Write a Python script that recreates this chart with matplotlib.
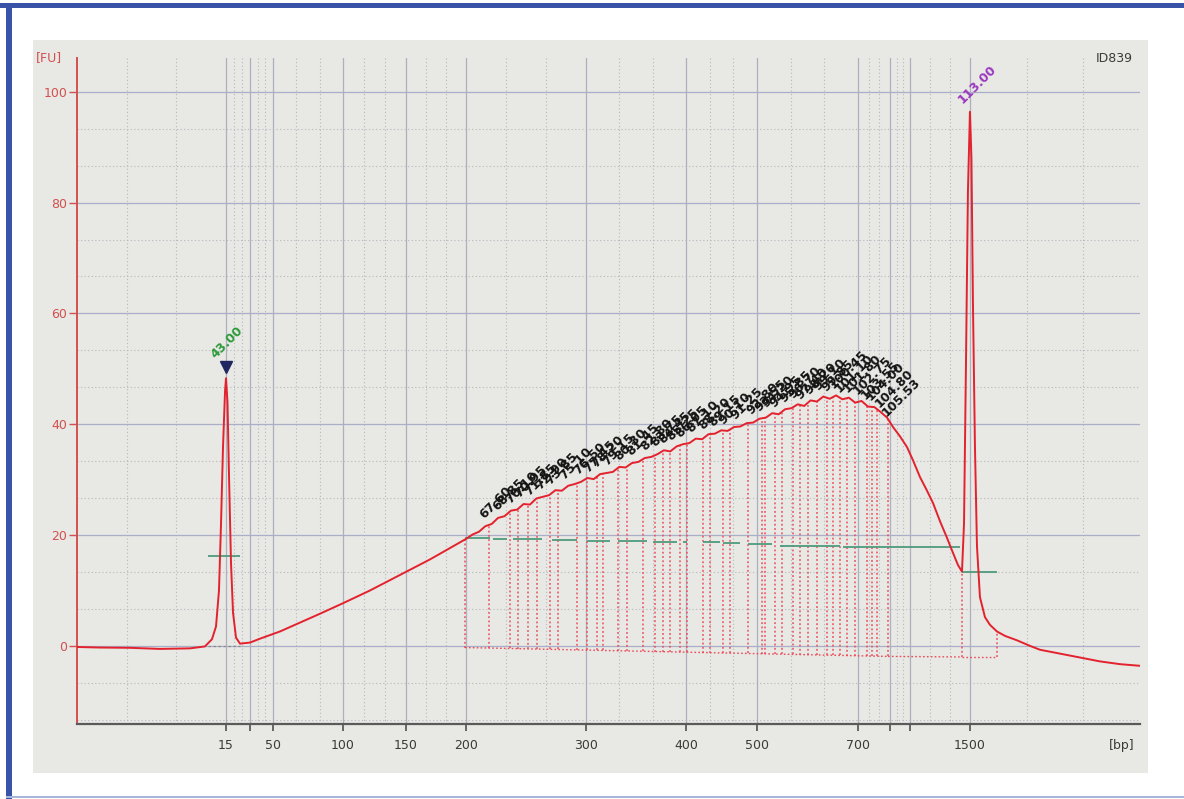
import numpy as np
import matplotlib
matplotlib.use("Agg")
import matplotlib.pyplot as plt
from matplotlib.patches import Rectangle

# ---------------------------------------------------------------- data
# migration time [s] and fluorescence [FU] of the electropherogram trace
trace_time = [
    28.98, 31.14, 33.97, 36.79, 39.61, 41.02, 41.68, 42.06, 42.34, 42.53,
    42.72, 42.91, 43.00, 43.14, 43.28, 43.47, 43.66, 43.94, 44.32, 45.26,
    46.20, 48.08, 49.96, 51.84, 54.01, 56.55, 59.37, 62.19, 65.58, 66.2,
    66.8, 67.4, 68.0, 68.6, 69.2, 69.8, 70.4, 71.0, 71.6, 72.2,
    72.8, 73.4, 74.0, 74.6, 75.2, 75.8, 76.4, 77.0, 77.6, 78.2,
    78.8, 79.4, 80.0, 80.6, 81.2, 81.8, 82.4, 83.0, 83.6, 84.2,
    84.8, 85.4, 86.0, 86.6, 87.2, 87.8, 88.4, 89.0, 89.6, 90.2,
    90.8, 91.4, 92.0, 92.6, 93.2, 93.8, 94.4, 95.0, 95.6, 96.2,
    96.8, 97.4, 98.0, 98.6, 99.2, 99.8, 100.4, 101.0, 101.6, 102.2,
    102.8, 103.4, 104.0, 104.6, 105.2, 105.76, 106.42, 107.07, 107.64, 108.29,
    108.96, 109.52, 110.18, 110.84, 111.40, 111.87, 112.25, 112.44, 112.62, 112.81,
    113.00, 113.14, 113.28, 113.47, 113.66, 113.94, 114.41, 114.88, 115.54, 116.30,
    117.43, 118.65, 119.59, 121.47, 123.35, 125.23, 127.12, 129.00,
]
trace_fu = [
    -0.2, -0.3, -0.35, -0.55, -0.45, -0.1, 1.2, 3.5, 10.0, 22.0,
    36.0, 46.0, 48.3, 44.0, 31.0, 15.0, 6.0, 1.5, 0.4, 0.6,
    1.3, 2.6, 4.2, 5.8, 7.7, 10.0, 12.8, 15.6, 19.3, 20.1,
    20.6, 21.6, 22.0, 23.1, 23.4, 24.4, 24.6, 25.6, 25.5, 26.6,
    26.9, 27.2, 28.1, 28.0, 28.9, 29.2, 29.6, 30.3, 30.1, 31.0,
    31.2, 31.4, 32.3, 32.2, 33.0, 33.2, 33.9, 34.1, 34.6, 35.3,
    35.1, 36.0, 36.4, 36.6, 37.4, 37.3, 38.2, 38.3, 38.9, 38.8,
    39.5, 39.6, 40.2, 40.3, 41.0, 41.2, 42.0, 41.8, 42.7, 42.9,
    43.6, 43.3, 44.3, 44.1, 45.0, 44.6, 45.2, 44.5, 44.8, 43.9,
    44.2, 43.2, 43.1, 42.2, 41.2, 39.5, 37.8, 35.9, 33.5, 30.5,
    28.0, 25.8, 22.5, 19.5, 16.8, 14.6, 13.4, 22.0, 50.0, 82.0,
    96.4, 88.0, 62.0, 36.0, 18.0, 8.8, 5.2, 3.8, 2.6, 1.8,
    1.0, 0.0, -0.7, -1.4, -2.1, -2.8, -3.3, -3.6,
]

# ladder sizes [bp] and the migration times they sit at
ladder_bp = ["15", "", "50", "100", "150", "200", "300", "400", "500",
             "700", "", "", "1500"]
ladder_time = [43.00, 45.26, 47.42, 54.01, 59.94, 65.58, 76.87, 86.28,
               92.96, 102.47, 105.48, 107.36, 113.00]

# markers: lower and upper
marker_time = [43.00, 113.00]
marker_fu = [48.3, 96.4]

# smear peaks (apex migration times) and their start / end boundaries
smear_peak_time = [
    67.60, 68.85, 70.10, 70.95, 71.85, 72.90, 73.85, 75.10, 76.50, 77.45,
    78.20, 79.15, 80.30, 81.45, 82.80, 83.75, 84.45, 85.25, 86.05, 87.10,
    88.20, 89.15, 90.10, 91.25, 92.80, 93.55, 94.20, 94.95, 95.85, 96.70,
    97.40, 98.20, 99.10, 99.85, 100.45, 101.10, 101.80, 102.75, 103.55, 104.00,
    104.80, 105.53,
]
smear_boundary_time = [
    65.49, 67.75, 69.72, 70.47, 71.41, 72.26, 73.49, 74.24, 76.03, 76.97,
    77.91, 78.47, 79.88, 80.73, 82.23, 83.36, 84.12, 84.78, 85.72, 86.38,
    87.88, 88.54, 89.77, 90.42, 92.12, 93.43, 93.71, 94.66, 95.31, 96.35,
    97.01, 97.76, 98.61, 99.55, 100.12, 100.77, 101.43, 102.18, 103.31, 103.78,
    104.25, 105.29,
]
smear_base_fu = [-0.3, -1.9]          # baseline at first / last boundary
upper_marker_bounds = [112.25, 115.54]
upper_marker_base_fu = -2.0
lower_marker_bounds = [41.31, 44.32]
lower_marker_base_fu = 0.0

# peak-width segments (start, end, level)
width_start = [65.49, 68.12, 70.00, 73.67, 76.97, 79.88, 83.18, 86.00, 87.88,
               89.77, 92.12, 95.13, 101.05, 41.31, 112.25]
width_end = [67.84, 69.44, 72.73, 76.03, 79.13, 82.61, 85.44, 86.38, 89.48,
             91.36, 94.37, 100.77, 112.06, 44.32, 115.54]
width_fu = [19.4, 19.3, 19.2, 19.1, 19.0, 18.9, 18.8, 18.8, 18.7, 18.6,
            18.4, 18.1, 17.9, 16.2, 13.4]

y_ticks = [0, 20, 40, 60, 80, 100]
x_range = (28.98, 129.0)
y_range = (-14.1, 106.1)

# ---------------------------------------------------------------- style
TRACE = "#e3222e"
DOT = "#ec4c5a"
AXIS_RED = "#d2504f"
TXT_GRAY = "#3a3a3a"
GRID_MAJ_V = "#adb0bf"
GRID_MAJ_H = "#a9aec9"
GRID_MIN = "#b6b7bf"
PANEL = "#e8e8e4"
FRAME_BLUE = "#3953a6"
WIDTH_GREEN = "#4f9a7c"

plt.rcParams["font.family"] = ["DejaVu Sans"]

W, H = 1184, 799
fig = plt.figure(figsize=(W / 100, H / 100), dpi=100)
fig.patch.set_facecolor("white")

# frame and panel
fig.add_artist(Rectangle((33 / W, 1 - 773 / H), (1148 - 33) / W, (773 - 40) / H,
                         transform=fig.transFigure, facecolor=PANEL,
                         edgecolor="none", zorder=0))
fig.add_artist(Rectangle((0, 1 - 8 / H), 1, 5 / H, transform=fig.transFigure,
                         facecolor=FRAME_BLUE, edgecolor="none", zorder=1))
fig.add_artist(Rectangle((6 / W, 0), 6 / W, 1 - 3 / H, transform=fig.transFigure,
                         facecolor=FRAME_BLUE, edgecolor="none", zorder=1))
fig.add_artist(Rectangle((6 / W, 1 / H), 1 - 6 / W, 2 / H, transform=fig.transFigure,
                         facecolor="#a9b6dc", edgecolor="none", zorder=1))

ax = fig.add_axes([77 / W, 1 - 724 / H, (1140 - 77) / W, (724 - 58) / H])
ax.set_facecolor("none")
ax.set_xlim(*x_range)
ax.set_ylim(*y_range)

# grid: major lines at ladder / FU ticks, dotted lines at thirds in between
x_major = [x_range[0]] + ladder_time + [x_range[1]]
x_minor = []
for a, b in zip(x_major[:-1], x_major[1:]):
    x_minor += [a + (b - a) / 3, a + 2 * (b - a) / 3]
y_major = [-20] + y_ticks + [120]
y_minor = []
for a, b in zip(y_major[:-1], y_major[1:]):
    y_minor += [a + (b - a) / 3, a + 2 * (b - a) / 3]

for x in x_minor:
    ax.axvline(x, color=GRID_MIN, lw=0.8, ls=(0, (1, 2.2)), zorder=1)
for y in y_minor:
    ax.axhline(y, color=GRID_MIN, lw=0.8, ls=(0, (1, 2.2)), zorder=1)
for x in ladder_time:
    ax.axvline(x, color=GRID_MAJ_V, lw=0.9, zorder=1.2)
for y in y_ticks:
    ax.axhline(y, color=GRID_MAJ_H, lw=0.9, zorder=1.2)

# ticks
ax.set_xticks(ladder_time)
ax.set_xticklabels(ladder_bp)
ax.set_yticks(y_ticks)
ax.set_yticklabels([str(v) for v in y_ticks])
ax.tick_params(axis="x", direction="out", length=5, width=1.2, color="#505050",
               labelsize=9, labelcolor=TXT_GRAY, pad=6)
ax.tick_params(axis="y", direction="out", length=6, width=1.0, color=AXIS_RED,
               labelsize=9, labelcolor=AXIS_RED, pad=1)
for s in ("top", "right"):
    ax.spines[s].set_visible(False)
ax.spines["left"].set_color(AXIS_RED)
ax.spines["left"].set_linewidth(1.4)
ax.spines["bottom"].set_color("#5a5a5a")
ax.spines["bottom"].set_linewidth(1.6)

tt = np.array(trace_time)
ff = np.array(trace_fu)

# smear region: baseline and peak boundary drop lines
sb = np.array(smear_boundary_time)
sbase = np.interp(sb, [sb[0], sb[-1]], smear_base_fu)
ax.plot([sb[0], sb[-1]], smear_base_fu, color=DOT, lw=1.0, ls=(0, (1.2, 1.6)), zorder=2)
ax.vlines(sb, sbase, np.interp(sb, tt, ff), colors=DOT, lw=1.1,
          linestyles=(0, (1.2, 1.6)), zorder=2)
ub = np.array(upper_marker_bounds)
ax.plot(ub, [upper_marker_base_fu] * 2, color=DOT, lw=1.0, ls=(0, (1.2, 1.6)), zorder=2)
ax.plot([sb[-1], ub[0]], [smear_base_fu[-1], upper_marker_base_fu], color=DOT,
        lw=1.0, ls=(0, (1.2, 1.6)), zorder=2)
ax.vlines(ub, upper_marker_base_fu, np.interp(ub, tt, ff), colors=DOT, lw=1.1,
          linestyles=(0, (1.2, 1.6)), zorder=2)
ax.plot(lower_marker_bounds, [lower_marker_base_fu] * 2, color="#8a8a8a", lw=0.9,
        ls=(0, (2, 2)), zorder=2)

# peak widths
ax.hlines(width_fu, width_start, width_end, colors=WIDTH_GREEN, lw=1.3, zorder=3)

# trace
ax.plot(tt, ff, color=TRACE, lw=1.4, zorder=4)

# smear peak labels
for t in smear_peak_time:
    ax.annotate(f"{t:.2f}", xy=(t, np.interp(t, tt, ff)), xytext=(-1, 3),
                textcoords="offset points", rotation=45, rotation_mode="anchor",
                ha="left", va="bottom", fontsize=9, fontweight="bold",
                color="#141414", zorder=5)

# markers
ax.plot([marker_time[0]], [marker_fu[0] + 2.1], marker="v", ms=8,
        color="#1f2660", zorder=6, clip_on=False)
ax.annotate(f"{marker_time[0]:.2f}", xy=(marker_time[0], marker_fu[0]),
            xytext=(-6, 12), textcoords="offset points", rotation=45,
            rotation_mode="anchor", ha="left", va="bottom", fontsize=9,
            fontweight="bold", color="#2d9a3a", zorder=6)
ax.annotate(f"{marker_time[1]:.2f}", xy=(marker_time[1], marker_fu[1]),
            xytext=(-4, 4), textcoords="offset points", rotation=45,
            rotation_mode="anchor", ha="left", va="bottom", fontsize=9,
            fontweight="bold", color="#9a35c0", zorder=6, annotation_clip=False)

# axis captions
fig.text(49 / W, 1 - 58 / H, "[FU]", color=AXIS_RED, fontsize=9,
         ha="center", va="center")
fig.text(1122 / W, 1 - 745 / H, "[bp]", color=TXT_GRAY, fontsize=9,
         ha="center", va="center")
fig.text(1114 / W, 1 - 59 / H, "ID839", color=TXT_GRAY, fontsize=9,
         ha="center", va="center")

fig.savefig("out.png", dpi=100, facecolor="white")
